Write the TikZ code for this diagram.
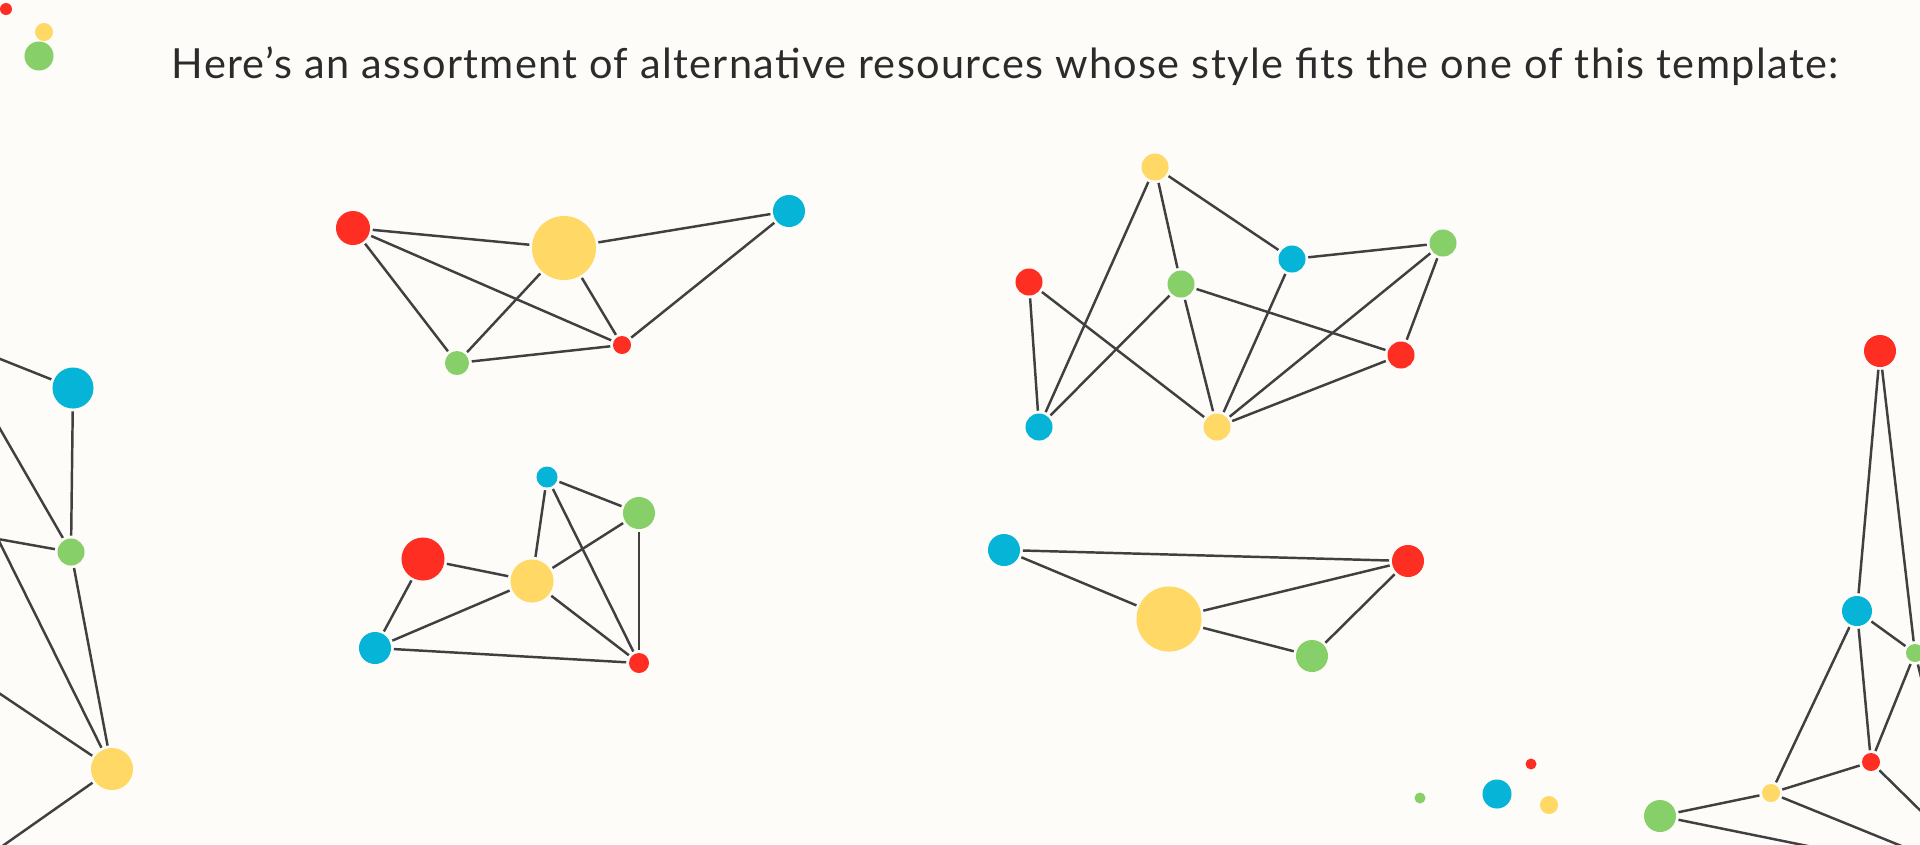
\documentclass[tikz,border=0pt]{standalone}
\usepackage{xcolor}
\usepackage{fontspec}
\setmainfont{Lato}[LetterSpace=3.2]
\usepackage{tikz}
\usetikzlibrary{shapes, positioning, calc}

\definecolor{paper}{HTML}{FDFCF8}
\definecolor{dotred}{HTML}{FF2E22}
\definecolor{dotyellow}{HTML}{FFD866}
\definecolor{dotgreen}{HTML}{87CF69}
\definecolor{dotcyan}{HTML}{05B4D7}
\definecolor{edgegray}{HTML}{404040}
\definecolor{inkgray}{HTML}{2B2B2B}

\begin{document}
\begin{tikzpicture}[
    x=0.01cm, y=-0.01cm,
    dot/.style={circle, inner sep=0pt, draw=none, minimum size=#1},
    rdot/.style={dot=#1, fill=dotred},
    ydot/.style={dot=#1, fill=dotyellow},
    gdot/.style={dot=#1, fill=dotgreen},
    cdot/.style={dot=#1, fill=dotcyan},
    line/.style={draw=edgegray, line width=0.7pt, shorten <=0.6pt, shorten >=0.6pt},
    heading/.style={font=\fontsize{11.8}{13}\selectfont, text=inkgray, inner sep=0pt, anchor=base west}
]

% Canvas
\fill[paper] (0,0) rectangle (1920,844);
\useasboundingbox (0,0) rectangle (1920,844);
\clip (0,0) rectangle (1920,844);

% Heading
\node[heading] (title) at (171,78) {Here’s an assortment of alternative resources whose style fits the one of this template:};
\node[rdot=1.2mm] (cornerR) at (6,9) {};
\node[ydot=1.8mm] (cornerY) at (44,32) {};
\node[gdot=2.9mm] (cornerG) at (39,56) {};

% Group 1
\node[rdot=3.4mm] (aR) at (353,228) {};
\node[ydot=6.4mm] (aY) at (564,248) {};
\node[cdot=3.2mm] (aC) at (789,211) {};
\node[gdot=2.4mm] (aG) at (457,363) {};
\node[rdot=1.8mm] (aS) at (622,345) {};

\path[line] (aR) -- (aY);
\path[line] (aR) -- (aS);
\path[line] (aR) -- (aG);
\path[line] (aY) -- (aC);
\path[line] (aY) -- (aG);
\path[line] (aY) -- (aS);
\path[line] (aC) -- (aS);
\path[line] (aG) -- (aS);

% Group 2
\node[ydot=2.7mm] (bTopY) at (1155,167) {};
\node[cdot=2.7mm] (bMidC) at (1292,259) {};
\node[gdot=2.7mm] (bRightG) at (1443,243) {};
\node[rdot=2.7mm] (bLeftR) at (1029,282) {};
\node[gdot=2.7mm] (bMidG) at (1181,284) {};
\node[rdot=2.7mm] (bRightR) at (1401,355) {};
\node[cdot=2.7mm] (bLowC) at (1039,427) {};
\node[ydot=2.7mm] (bLowY) at (1217,427) {};

\path[line] (bTopY) -- (bLowC);
\path[line] (bTopY) -- (bMidG);
\path[line] (bTopY) -- (bMidC);
\path[line] (bMidC) -- (bRightG);
\path[line] (bLeftR) -- (bLowC);
\path[line] (bLeftR) -- (bLowY);
\path[line] (bMidG) -- (bLowC);
\path[line] (bMidG) -- (bLowY);
\path[line] (bMidG) -- (bRightR);
\path[line] (bMidC) -- (bLowY);
\path[line] (bRightG) -- (bLowY);
\path[line] (bRightG) -- (bRightR);
\path[line] (bRightR) -- (bLowY);

% Group 3
\node[cdot=2.1mm] (cTopC) at (547,477) {};
\node[gdot=3.2mm] (cG) at (639,513) {};
\node[rdot=4.3mm] (cR) at (423,559) {};
\node[ydot=4.3mm] (cY) at (532,581) {};
\node[cdot=3.2mm] (cC) at (375,648) {};
\node[rdot=2.0mm] (cLowR) at (639,663) {};

\path[line] (cTopC) -- (cG);
\path[line] (cTopC) -- (cY);
\path[line] (cTopC) -- (cLowR);
\path[line] (cG) -- (cY);
\path[line] (cG) -- (cLowR);
\path[line] (cR) -- (cY);
\path[line] (cR) -- (cC);
\path[line] (cY) -- (cC);
\path[line] (cY) -- (cLowR);
\path[line] (cC) -- (cLowR);

% Group 4
\node[cdot=3.2mm] (dC) at (1004,550) {};
\node[rdot=3.2mm] (dR) at (1408,561) {};
\node[ydot=6.5mm] (dY) at (1169,619) {};
\node[gdot=3.2mm] (dG) at (1312,656) {};

\path[line] (dC) -- (dR);
\path[line] (dC) -- (dY);
\path[line] (dY) -- (dR);
\path[line] (dY) -- (dG);
\path[line] (dG) -- (dR);

% Left edge network
\node[cdot=4.1mm] (eC) at (73,388) {};
\node[gdot=2.7mm] (eG) at (71,552) {};
\node[ydot=4.2mm] (eY) at (112,769) {};
\coordinate (eOut1) at (-80,327);
\coordinate (eOut2) at (-80,290);
\coordinate (eJoin) at (-2,539);
\coordinate (eOut3) at (-80,640);
\coordinate (eOut4) at (-80,904);

\path[line] (eC) -- (eOut1);
\path[line] (eC) -- (eG);
\path[line] (eG) -- (eOut2);
\path[line] (eG) -- (eJoin);
\path[line] (eJoin) -- (eY);
\path[line] (eG) -- (eY);
\path[line] (eY) -- (eOut3);
\path[line] (eY) -- (eOut4);

% Right edge network
\node[rdot=3.2mm] (fTopR) at (1880,351) {};
\node[cdot=3.0mm] (fC) at (1857,611) {};
\node[gdot=1.8mm] (fG) at (1915,653) {};
\node[rdot=1.8mm] (fR) at (1871,762) {};
\node[ydot=1.8mm] (fY) at (1771,793) {};
\node[gdot=3.2mm] (fBigG) at (1660,816) {};
\coordinate (fOut1) at (1995,884);
\coordinate (fOut2) at (1940,753);

\path[line] (fTopR) -- (fC);
\path[line] (fTopR) -- (fG);
\path[line] (fC) -- (fG);
\path[line] (fC) -- (fY);
\path[line] (fC) -- (fR);
\path[line] (fG) -- (fR);
\path[line] (fG) -- (fOut2);
\path[line] (fR) -- (fY);
\path[line] (fR) -- (fOut1);
\path[line] (fY) -- (fOut1);
\path[line] (fY) -- (fBigG);
\path[line] (fBigG) -- (fOut1);

% Loose dots
\node[gdot=1.1mm] (looseG) at (1420,798) {};
\node[cdot=2.9mm] (looseC) at (1497,794) {};
\node[rdot=1.1mm] (looseR) at (1531,764) {};
\node[ydot=1.8mm] (looseY) at (1549,805) {};

\end{tikzpicture}
\end{document}
